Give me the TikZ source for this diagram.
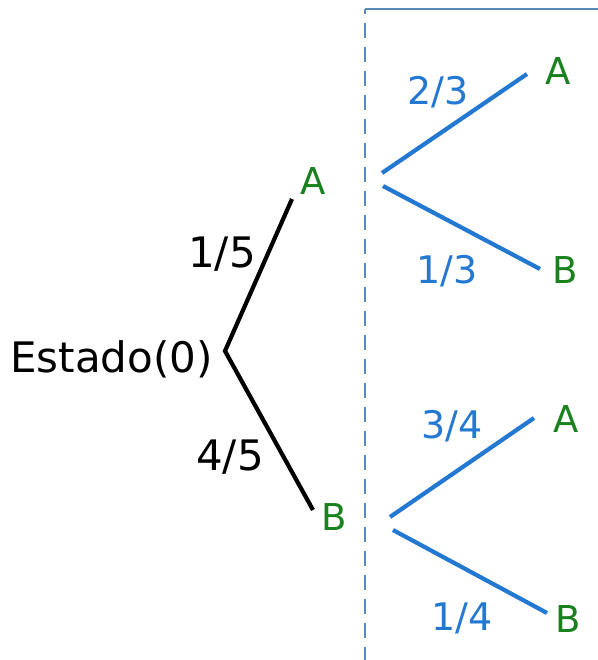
\documentclass[tikz,border=0pt]{standalone}
\usepackage{fontspec}
\setmainfont{DejaVu Sans}
\definecolor{treegreen}{RGB}{25,130,30}
\definecolor{treeblue}{RGB}{35,120,210}
\definecolor{boxblue}{RGB}{85,140,185}
\tikzset{
  blk/.style={inner sep=0pt, anchor=base, text=black, font=\fontsize{42}{48}\selectfont},
  bluelbl/.style={inner sep=0pt, anchor=base, text=treeblue, font=\fontsize{38}{44}\selectfont},
  grn/.style={inner sep=0pt, anchor=base, text=treegreen, font=\fontsize{37}{43}\selectfont},
  blkline/.style={draw=black, line width=4.2pt},
  blueline/.style={draw=treeblue, line width=4.2pt},
  frame/.style={draw=boxblue, line width=2pt},
}
\begin{document}
\begin{tikzpicture}[x=1pt,y=-1pt]
\useasboundingbox (0,0) rectangle (597,660);
\fill[white] (0,0) rectangle (597,660);
% frame
\coordinate (fb) at (365,662);
\coordinate (ft) at (365,9);
\coordinate (fr) at (600,9);
\draw[frame, dash pattern=on 15pt off 9pt] (fb) -- (ft);
\draw[frame] (ft) -- (fr);
% texts
\node[blk, anchor=base west] (root) at (10,372) {Estado(0)};
\node[grn] (a1) at (313,195) {A};
\node[grn] (b1) at (334,530) {B};
\node[blk] (p15) at (222,267) {1/5};
\node[blk] (p45) at (230,470) {4/5};
\node[bluelbl] (p23) at (438,105) {2/3};
\node[bluelbl] (p13) at (447,283) {1/3};
\node[bluelbl] (p34) at (452,438) {3/4};
\node[bluelbl] (p14) at (462,630) {1/4};
\node[grn] (a2) at (558,85) {A};
\node[grn] (b2) at (565,283) {B};
\node[grn] (a3) at (566,432) {A};
\node[grn] (b3) at (568,632) {B};
% line ends
\coordinate (r0) at (225,351);
\coordinate (a1e) at (292,199);
\coordinate (b1e) at (313,510);
\coordinate (u1s) at (382,173);
\coordinate (u1e) at (527,74);
\coordinate (u2s) at (383,186);
\coordinate (u2e) at (540,269);
\coordinate (l1s) at (390,517);
\coordinate (l1e) at (534,418);
\coordinate (l2s) at (393,530);
\coordinate (l2e) at (547,613);
\draw[blkline] (a1e) -- (r0) -- (b1e);
\draw[blueline] (u1s) -- (u1e);
\draw[blueline] (u2s) -- (u2e);
\draw[blueline] (l1s) -- (l1e);
\draw[blueline] (l2s) -- (l2e);
\end{tikzpicture}
\end{document}
